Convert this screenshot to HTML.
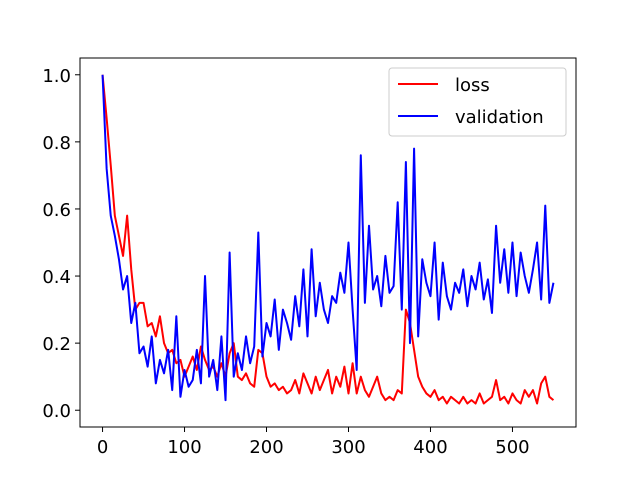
<!DOCTYPE html>
<html><head><meta charset="utf-8"><style>
body{margin:0;background:#fff}
svg text{font-family:"DejaVu Sans","Liberation Sans",sans-serif;font-size:18px;fill:#000}
</style></head><body>
<svg id="c" width="640" height="480"></svg>
<script>
const xStep = 5;
const lossValues = [1.0,0.87,0.73,0.58,0.52,0.46,0.58,0.42,0.30,0.32,0.32,0.25,0.26,0.22,0.28,0.20,0.17,0.18,0.14,0.15,0.10,0.13,0.16,0.12,0.19,0.15,0.12,0.13,0.10,0.14,0.10,0.17,0.20,0.10,0.09,0.11,0.08,0.07,0.18,0.17,0.10,0.07,0.08,0.06,0.07,0.05,0.06,0.09,0.05,0.11,0.08,0.05,0.10,0.06,0.09,0.12,0.05,0.10,0.07,0.13,0.05,0.14,0.05,0.10,0.06,0.04,0.07,0.10,0.05,0.03,0.04,0.03,0.06,0.05,0.30,0.26,0.18,0.10,0.07,0.05,0.04,0.06,0.03,0.04,0.02,0.04,0.03,0.02,0.04,0.02,0.03,0.02,0.05,0.02,0.03,0.04,0.09,0.03,0.04,0.02,0.05,0.03,0.02,0.06,0.04,0.06,0.02,0.08,0.10,0.04,0.03];
const validationValues = [1.0,0.72,0.58,0.52,0.45,0.36,0.40,0.26,0.32,0.17,0.19,0.13,0.22,0.08,0.15,0.11,0.18,0.06,0.28,0.04,0.12,0.07,0.09,0.18,0.08,0.40,0.10,0.15,0.06,0.22,0.03,0.47,0.10,0.17,0.12,0.22,0.14,0.19,0.53,0.16,0.26,0.22,0.33,0.18,0.30,0.26,0.21,0.34,0.25,0.42,0.22,0.48,0.28,0.38,0.30,0.26,0.34,0.32,0.41,0.35,0.50,0.30,0.12,0.76,0.32,0.55,0.36,0.40,0.31,0.46,0.35,0.37,0.62,0.30,0.74,0.20,0.78,0.22,0.45,0.38,0.34,0.50,0.27,0.44,0.34,0.30,0.38,0.35,0.42,0.31,0.40,0.36,0.44,0.33,0.39,0.29,0.55,0.38,0.48,0.35,0.50,0.34,0.47,0.40,0.35,0.42,0.50,0.33,0.61,0.32,0.38];
const xTicks = [0,100,200,300,400,500];
const yTicks = [0.0,0.2,0.4,0.6,0.8,1.0];
const yTickLabels = ["0.0","0.2","0.4","0.6","0.8","1.0"];

const L=80,R=576,T=58,B=427;
const xMin=-27.5,xMax=577.5,yMin=-0.05,yMax=1.05;
const sx=v=>L+(v-xMin)/(xMax-xMin)*(R-L);
const sy=v=>B-(v-yMin)/(yMax-yMin)*(B-T);
const NS="http://www.w3.org/2000/svg";
const svg=document.getElementById('c');
function mk(tag,attrs,parent){const e=document.createElementNS(NS,tag);for(const k in attrs)e.setAttribute(k,attrs[k]);(parent||svg).appendChild(e);return e;}

function series(vals,color,name){
  const pts=vals.map((v,i)=>sx(i*xStep).toFixed(2)+','+sy(v).toFixed(2)).join(' ');
  const p=mk('polyline',{points:pts,fill:'none',stroke:color,'stroke-width':2,'stroke-linejoin':'round'});
  
  
}
series(lossValues,'#ff0000','loss-line');
series(validationValues,'#0000ff','validation-line');

const frame=mk('rect',{x:L,y:T,width:R-L,height:B-T,fill:'none',stroke:'#000','stroke-width':1});



xTicks.forEach(t=>{
  const x=sx(t);
  const tk=mk('line',{x1:x,x2:x,y1:B,y2:B+5,stroke:'#000'});
  
  
  const tx=mk('text',{x:x,y:B+26,'text-anchor':'middle'});
  tx.textContent=t;
  
  
});
yTicks.forEach((t,i)=>{
  const y=sy(t);
  const tk=mk('line',{x1:L-5,x2:L,y1:y,y2:y,stroke:'#000'});
  
  
  const tx=mk('text',{x:L-9,y:y+7,'text-anchor':'end'});
  tx.textContent=yTickLabels[i];
  
  
});

const lg=mk('g',{});


mk('rect',{x:389,y:68,width:177,height:68,rx:3,fill:'#fff','fill-opacity':0.8,stroke:'#ccc'},lg);
[['loss','#ff0000',84],['validation','#0000ff',116]].forEach(([n,c,y])=>{
  const l=mk('line',{x1:398,x2:438,y1:y,y2:y,stroke:c,'stroke-width':2},lg);
  
  
  const t=mk('text',{x:455,y:y+7},lg);
  t.textContent=n;
  
  
});
</script>
</body></html>
